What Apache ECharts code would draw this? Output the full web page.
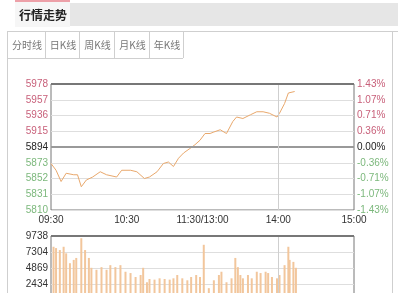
<!DOCTYPE html>
<html><head><meta charset="utf-8">
<script src="https://cdn.jsdelivr.net/npm/echarts@6/dist/echarts.min.js"></script>
<style>html,body{margin:0;padding:0;background:#fff;}#c{width:398px;height:293px;}</style>
</head><body><div id="c"></div>
<script>
var basePrice = 5894;
var timeLabels = ['09:30','10:30','11:30/13:00','14:00','15:00'];
var priceTickLabels = ['5810','5831','5852','5873','5894','5915','5936','5957','5978'];
var pctTickLabels = ['-1.43%','-1.07%','-0.71%','-0.36%','0.00%','0.36%','0.71%','1.07%','1.43%'];
var volTickLabels = ['0','2434','4869','7304','9738'];
var tabNames = ['分时线','日K线','周K线','月K线','年K线'];
var titleText = '行情走势';

var priceMinutes = [0,4,8,12,18,21,24,28,33,39,44,52,56,63,68,74,78,84,89,93,97,101,105,110,114,118,122,126,129,134,139,144,147,152,158,163,168,173,179,181,185,188,193];
var priceValues = [5872,5863,5848,5859,5857,5857,5841,5850,5854,5861,5857,5854,5863,5863,5861,5852,5854,5861,5872,5874,5868,5879,5886,5892,5897,5903,5912,5912,5914,5917,5912,5928,5934,5932,5937,5941,5941,5939,5934,5939,5952,5966,5968];

var volMinutes = [2,4,7,10,12,15,18,20,24,27,30,32,36,40,44,47,51,55,59,63,67,71,73,76,78,82,86,90,94,97,100,104,108,111,115,118,121,125,129,133,135,139,143,146,148,150,152,156,159,163,166,170,172,175,179,181,185,188,189,192,194];
var volValues = [8100,7900,7600,8100,7100,5600,6100,6400,9400,7600,6400,4900,4600,5000,4600,5300,5000,5300,4300,4100,3500,3800,4900,2700,3200,3100,3300,3200,3100,3300,3800,3300,3000,3500,3800,3500,8400,1800,3000,3800,4300,2700,3300,6400,5000,3800,3300,3800,3300,4300,4100,4300,4100,3500,3300,3800,5300,8100,6100,5800,4900];

var priceData = priceMinutes.map(function(m,i){return [m, priceValues[i]-basePrice];});
var volData = volMinutes.map(function(m,i){return [m, volValues[i]];});

var red = '#c8607a', green = '#7cb87c';
function priceColor(v){ return v>0?red:(v<0?green:'#222'); }

var chart = echarts.init(document.getElementById('c'), null, {renderer:'canvas'});
var g = [];
g.push({type:'rect', shape:{x:15,y:3,width:383,height:23}, style:{fill:'#e6e6e6'}, silent:true});
g.push({type:'rect', shape:{x:15,y:2,width:55,height:25}, style:{fill:'#f6f6f6'}, silent:true});
g.push({type:'rect', shape:{x:15,y:0,width:55,height:2}, style:{fill:'#eda0a8'}, silent:true});
g.push({type:'text', x:43, y:15, style:{text:titleText, fill:'#222', font:'bold 12px "Noto Sans CJK SC"', align:'center', verticalAlign:'middle'}});
g.push({type:'line', shape:{x1:7,y1:31.5,x2:398,y2:31.5}, style:{stroke:'#cfcfcf',lineWidth:1}});
g.push({type:'line', shape:{x1:7.5,y1:31,x2:7.5,y2:293}, style:{stroke:'#cfcfcf',lineWidth:1}});
g.push({type:'line', shape:{x1:392.5,y1:31,x2:392.5,y2:293}, style:{stroke:'#cfcfcf',lineWidth:1}});
g.push({type:'line', shape:{x1:7,y1:58.5,x2:183,y2:58.5}, style:{stroke:'#cfcfcf',lineWidth:1}});
var divs = [45,79,114,149,183];
divs.forEach(function(x){ g.push({type:'line', shape:{x1:x+0.5,y1:31,x2:x+0.5,y2:58}, style:{stroke:'#cfcfcf',lineWidth:1}}); });
var prev = 7;
tabNames.forEach(function(t,i){
  g.push({type:'text', x:(prev+divs[i])/2+1, y:45, style:{text:t, fill:'#777', font:'10px "Noto Sans CJK SC"', align:'center', verticalAlign:'middle'}});
  prev = divs[i];
});

chart.setOption({
  animation:false,
  backgroundColor:'#fff',
  graphic:g,
  grid:[
    {left:51, top:84, width:303, height:126, show:true, borderColor:'#777', borderWidth:1, containLabel:false, outerBoundsMode:'none'},
    {left:51, top:236, width:303, height:64, show:true, borderColor:'#777', borderWidth:1, containLabel:false, outerBoundsMode:'none'}
  ],
  xAxis:[
    {gridIndex:0, type:'value', min:0, max:240, interval:60,
     axisLine:{show:false}, axisTick:{show:false}, splitLine:{show:false},
     axisLabel:{margin:5, color:'#333', fontSize:10, fontFamily:'Liberation Sans', formatter:function(v){return timeLabels[Math.round(v/60)];}}},
    {gridIndex:1, type:'value', min:0, max:240, interval:60,
     axisLine:{show:false}, axisTick:{show:false}, splitLine:{show:false}, axisLabel:{show:false}}
  ],
  yAxis:[
    {gridIndex:0, type:'value', min:-84, max:84, interval:21,
     axisLine:{show:false}, axisTick:{show:false},
     splitLine:{lineStyle:{color:'#dedede', width:1}},
     axisLabel:{margin:3, fontSize:10, fontFamily:'Liberation Sans',
       formatter:function(v){return priceTickLabels[Math.round(v/21)+4];},
       color:function(v){return priceColor(v);} }},
    {gridIndex:0, type:'value', min:-84, max:84, interval:21, position:'right',
     axisLine:{show:false}, axisTick:{show:false}, splitLine:{show:false},
     axisLabel:{margin:3, fontSize:10, fontFamily:'Liberation Sans',
       formatter:function(v){return pctTickLabels[Math.round(v/21)+4];},
       color:function(v){return priceColor(v);} }},
    {gridIndex:1, type:'value', min:0, max:9738, interval:2434.5,
     axisLine:{show:false}, axisTick:{show:false},
     splitLine:{lineStyle:{color:'#dedede', width:1}},
     axisLabel:{margin:3, fontSize:10, fontFamily:'Liberation Sans', color:'#333',
       formatter:function(v){return volTickLabels[Math.round(v/2434.5)];}}}
  ],
  series:[
    {type:'line', xAxisIndex:0, yAxisIndex:0, data:priceData, symbol:'none',
     lineStyle:{color:'#e9a86c', width:1},
     markLine:{silent:true, symbol:'none', label:{show:false},
       data:[{yAxis:0, lineStyle:{color:'#999', width:2, type:'solid'}},
             {xAxis:180, lineStyle:{color:'#cfcfcf', width:1, type:'solid'}},
             {yAxis:84, lineStyle:{color:'#777', width:2, type:'solid'}}]}},
    {type:'bar', xAxisIndex:1, yAxisIndex:2, data:volData, barWidth:2,
     itemStyle:{color:'#f2c69c'},
     markLine:{silent:true, symbol:'none', label:{show:false},
       data:[{xAxis:180, lineStyle:{color:'#cfcfcf', width:1, type:'solid'}},
             {yAxis:9738, lineStyle:{color:'#777', width:2, type:'solid'}}]}}
  ]
});
</script></body></html>
